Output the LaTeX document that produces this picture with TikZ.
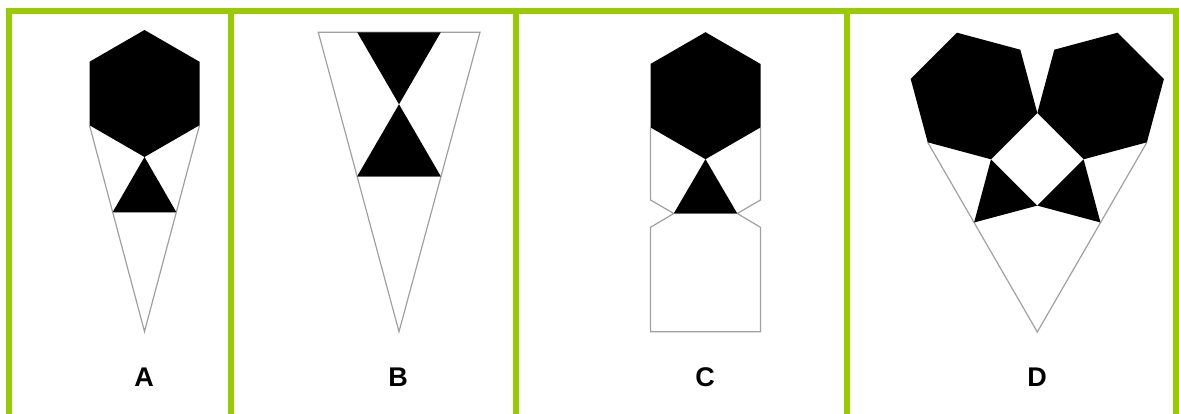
\documentclass[tikz,border=0pt]{standalone}
\usepackage{fontspec}
\setmainfont{Liberation Sans}
\usepackage{tikz}
\definecolor{frameGreen}{RGB}{153, 204, 0}
\definecolor{edgeGray}{RGB}{160, 160, 160}

\begin{document}
\begin{tikzpicture}[x=1pt, y=-1pt,
    outline/.style={edgeGray, line width=1.2pt, line join=miter},
    solid/.style={fill=black},
    letter/.style={anchor=base, font=\fontsize{27}{30}\selectfont\bfseries}]
  \useasboundingbox (0,0) rectangle (1179,414);

  % Green frame
  \draw[frameGreen, line width=6pt] (9,414) -- (9,11) -- (1176,11) -- (1176,414);
  \foreach \x in {231, 515.5, 847}
    \draw[frameGreen, line width=6pt] (\x,11) -- (\x,414);

  % A: hexagon, triangle and long cone
  \coordinate (Atop) at (144.5,30);
  \coordinate (Aur) at (199.5,61.75);
  \coordinate (Alr) at (199.5,125.25);
  \coordinate (Abot) at (144.5,157);
  \coordinate (All) at (89.5,125.25);
  \coordinate (Aul) at (89.5,61.75);
  \coordinate (Atl) at (112.75,212);
  \coordinate (Atr) at (176.25,212);
  \coordinate (Atip) at (144.5,331.5);

  \draw[outline] (All) -- (Atip) -- (Alr);
  \draw[outline] (Atl) -- (Atr);
  \fill[solid] (Atop) -- (Aur) -- (Alr) -- (Abot) -- (All) -- (Aul) -- cycle;
  \fill[solid] (Abot) -- (Atl) -- (Atr) -- cycle;

  % B: hourglass in a cone
  \coordinate (Bl) at (318.3,32.3);
  \coordinate (Br) at (480,32.3);
  \coordinate (Bul) at (357.2,32.3);
  \coordinate (Bur) at (440.8,32.3);
  \coordinate (Bmid) at (399,104.3);
  \coordinate (Bll) at (357.2,176.3);
  \coordinate (Blr) at (440.8,176.3);
  \coordinate (Btip) at (399,331.7);

  \draw[outline] (Bl) -- (Br) -- (Btip) -- cycle;
  \draw[outline] (Bll) -- (Blr);
  \fill[solid] (Bul) -- (Bur) -- (Bmid) -- cycle;
  \fill[solid] (Bmid) -- (Bll) -- (Blr) -- cycle;

  % C: hexagon, triangle and notched box
  \coordinate (Ctop) at (705.5,32.2);
  \coordinate (Cur) at (760.5,63.95);
  \coordinate (Clr) at (760.5,127.45);
  \coordinate (Cbot) at (705.5,159.2);
  \coordinate (Cll) at (650.5,127.45);
  \coordinate (Cul) at (650.5,63.95);
  \coordinate (Ctl) at (673.75,213.5);
  \coordinate (Ctr) at (737.25,213.5);

  \draw[outline] (Cll) -- (650.5,200) -- (Ctl) -- (650.5,227.3) -- (650.5,331.7)
    -- (760.5,331.7) -- (760.5,227.3) -- (Ctr) -- (760.5,200) -- (Clr);
  \draw[outline] (Ctl) -- (Ctr);
  \fill[solid] (Ctop) -- (Cur) -- (Clr) -- (Cbot) -- (Cll) -- (Cul) -- cycle;
  \fill[solid] (Cbot) -- (Ctl) -- (Ctr) -- cycle;

  % D: two tilted hexagons, a square and two triangles
  \coordinate (Dl1) at (957,32.7);
  \coordinate (Dl2) at (1020.3,49.7);
  \coordinate (Dmt) at (1037.3,113);
  \coordinate (Dsl) at (991,159.3);
  \coordinate (Dl5) at (927.7,142.3);
  \coordinate (Dl6) at (910.7,79);
  \coordinate (Dr1) at (1117.6,32.7);
  \coordinate (Dr2) at (1054.3,49.7);
  \coordinate (Dsr) at (1083.6,159.3);
  \coordinate (Dr5) at (1146.9,142.3);
  \coordinate (Dr6) at (1163.9,79);
  \coordinate (Dmb) at (1037.3,205.6);
  \coordinate (Dtl) at (974.1,222.5);
  \coordinate (Dtr) at (1100.5,222.5);
  \coordinate (Dtip) at (1037.3,332);

  \draw[outline] (Dl5) -- (Dtip) -- (Dr5);
  \fill[solid] (Dl1) -- (Dl2) -- (Dmt) -- (Dsl) -- (Dl5) -- (Dl6) -- cycle;
  \fill[solid] (Dr1) -- (Dr2) -- (Dmt) -- (Dsr) -- (Dr5) -- (Dr6) -- cycle;
  \fill[solid] (Dsl) -- (Dmb) -- (Dtl) -- cycle;
  \fill[solid] (Dsr) -- (Dmb) -- (Dtr) -- cycle;

  % Letters
  \node[letter] (labA) at (144,386) {A};
  \node[letter] (labB) at (398,386) {B};
  \node[letter] (labC) at (705,386) {C};
  \node[letter] (labD) at (1037,386) {D};
\end{tikzpicture}
\end{document}
